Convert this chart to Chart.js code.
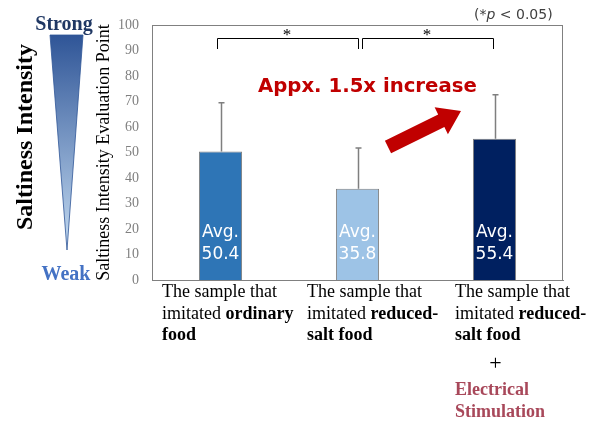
<!DOCTYPE html>
<html>
<head>
<meta charset="utf-8">
<script src="https://cdn.jsdelivr.net/npm/chart.js"></script>
<style>
  body { margin: 0; background: #fff; }
  #wrap { width: 600px; height: 433px; }
</style>
</head>
<body>
<div id="wrap"><canvas id="salt" width="600" height="433"></canvas></div>
<script>
// data
const categories = ['ordinary', 'reduced-salt', 'reduced-salt + ES'];
const means = [50.4, 35.8, 55.4];
const sdTops = [69.5, 51.8, 72.6];   // top of each error bar
const barColors = ['#2e75b6', '#9dc3e6', '#002060'];
const yMin = 0, yMax = 100, yStep = 10;

// x-axis text, each line is a list of [text, bold]
const catLines = [
  [[['The sample that', 0]], [['imitated ', 0], ['ordinary', 1]], [['food', 1]]],
  [[['The sample that', 0]], [['imitated ', 0], ['reduced-', 1]], [['salt food', 1]]],
  [[['The sample that', 0]], [['imitated ', 0], ['reduced-', 1]], [['salt food', 1]]]
];
const extraText = ['Electrical', 'Stimulation'];
// which pairs are significant
const sigPairs = [[0, 1], [1, 2]];

const SERIF = '"Liberation Serif", "Times New Roman", serif';
const SANS = '"DejaVu Sans", Verdana, sans-serif';

const extras = {
  id: 'extras',
  beforeDatasetsDraw(chart) {
    const ctx = chart.ctx, a = chart.chartArea;
    ctx.save();
    // box round the plot
    ctx.strokeStyle = '#808080';
    ctx.lineWidth = 1;
    ctx.strokeRect(a.left + 0.5, a.top + 0.5, a.right - a.left - 1, a.bottom - a.top);
    ctx.restore();
  },
  afterDatasetsDraw(chart) {
    const ctx = chart.ctx, a = chart.chartArea;
    const x = chart.scales.x, y = chart.scales.y;
    ctx.save();

    // error bars
    ctx.strokeStyle = '#7f7f7f';
    ctx.lineWidth = 1.5;
    means.forEach((m, i) => {
      const cx = Math.round(x.getPixelForValue(i)) + 0.5;
      const y0 = y.getPixelForValue(m), y1 = y.getPixelForValue(sdTops[i]);
      ctx.beginPath();
      ctx.moveTo(cx, y0); ctx.lineTo(cx, y1);
      ctx.moveTo(cx - 3, y1); ctx.lineTo(cx + 3, y1);
      ctx.stroke();
    });

    // avg labels inside bars
    ctx.fillStyle = '#ffffff';
    ctx.font = '17px ' + SANS;
    ctx.textAlign = 'center';
    ctx.textBaseline = 'alphabetic';
    means.forEach((m, i) => {
      const cx = x.getPixelForValue(i);
      ctx.fillText('Avg.', cx, a.bottom - 43);
      ctx.fillText(m.toFixed(1), cx, a.bottom - 21);
    });

    // significance brackets
    ctx.strokeStyle = '#000';
    ctx.lineWidth = 1;
    sigPairs.forEach((p, k) => {
      const xa = x.getPixelForValue(p[0]) + (k === 0 ? -4 : 4);
      const xb = x.getPixelForValue(p[1]) + (k === 0 ? 0 : -2);
      const yt = a.top + 13.5, yb = a.top + 24;
      ctx.beginPath();
      ctx.moveTo(Math.round(xa) + 0.5, yb); ctx.lineTo(Math.round(xa) + 0.5, yt);
      ctx.lineTo(Math.round(xb) + 0.5, yt); ctx.lineTo(Math.round(xb) + 0.5, yb);
      ctx.stroke();
      ctx.fillStyle = '#000';
      ctx.font = '17px ' + SERIF;
      ctx.textAlign = 'center';
      ctx.fillText('*', (xa + xb) / 2, a.top + 15);
    });

    // p note
    ctx.fillStyle = '#404040';
    ctx.font = '14px ' + SANS;
    ctx.textAlign = 'left';
    let px = 474;
    const pyy = 19;
    ctx.fillText('(*', px, pyy); px += ctx.measureText('(*').width;
    ctx.font = 'italic 14px ' + SANS;
    ctx.fillText('p', px, pyy); px += ctx.measureText('p').width;
    ctx.font = '14px ' + SANS;
    ctx.fillText(' < 0.05)', px, pyy);

    // increase note + arrow
    ctx.fillStyle = '#c00000';
    ctx.font = 'bold 19.7px ' + SANS;
    ctx.textAlign = 'left';
    ctx.fillText('Appx. 1.5x increase', 258, 92);
    const tx = 388, ty = 147, hx = 461, hy = 111;
    const ang = Math.atan2(hy - ty, hx - tx), len = Math.hypot(hx - tx, hy - ty);
    ctx.save();
    ctx.translate(tx, ty);
    ctx.rotate(ang);
    ctx.beginPath();
    ctx.moveTo(0, -7); ctx.lineTo(len - 22, -7); ctx.lineTo(len - 22, -15);
    ctx.lineTo(len, 0);
    ctx.lineTo(len - 22, 15); ctx.lineTo(len - 22, 7); ctx.lineTo(0, 7);
    ctx.closePath();
    ctx.fill();
    ctx.restore();

    // category labels under the axis
    const offs = [-58.5, -50.5, -39.5];
    catLines.forEach((lines, i) => {
      const lx = x.getPixelForValue(i) + offs[i];
      lines.forEach((segs, j) => {
        let cx = lx;
        segs.forEach(s => {
          ctx.font = (s[1] ? 'bold ' : '') + '18px ' + SERIF;
          ctx.fillStyle = '#000';
          ctx.fillText(s[0], cx, a.bottom + 17 + j * 21.5);
          cx += ctx.measureText(s[0]).width;
        });
      });
    });
    const x3 = x.getPixelForValue(2);
    ctx.font = '22px ' + SERIF;
    ctx.textAlign = 'center';
    ctx.fillStyle = '#000';
    ctx.fillText('+', x3 + 1, a.bottom + 90);
    ctx.textAlign = 'left';
    ctx.font = 'bold 18px ' + SERIF;
    ctx.fillStyle = '#a8485a';
    extraText.forEach((t, j) => ctx.fillText(t, x3 - 39.5, a.bottom + 115 + j * 22));

    // left decoration: strong/weak wedge
    ctx.textAlign = 'center';
    ctx.font = 'bold 20px ' + SERIF;
    ctx.fillStyle = '#203864';
    ctx.fillText('Strong', 64, 30);
    ctx.fillStyle = '#4472c4';
    ctx.fillText('Weak', 66, 280);
    const g = ctx.createLinearGradient(0, 35, 0, 250);
    g.addColorStop(0, '#2f5597');
    g.addColorStop(1, '#c5dcf2');
    ctx.fillStyle = g;
    ctx.beginPath();
    ctx.moveTo(50, 35); ctx.lineTo(83, 35); ctx.lineTo(67, 250); ctx.closePath();
    ctx.fill();
    ctx.strokeStyle = '#2f5597';
    ctx.lineWidth = 0.8;
    ctx.stroke();
    ctx.save();
    ctx.translate(32, 137);
    ctx.rotate(-Math.PI / 2);
    ctx.fillStyle = '#000';
    ctx.font = 'bold 24px ' + SERIF;
    ctx.textAlign = 'center';
    ctx.fillText('Saltiness Intensity', 0, 0);
    ctx.restore();

    ctx.restore();
  }
};

try {
  const ctx = document.getElementById('salt').getContext('2d');
  const data = {
    labels: categories,
    datasets: [{
      label: 'Saltiness',
      data: means,
      backgroundColor: barColors,
      borderColor: '#7f7f7f',
      borderWidth: 1,
      barPercentage: 0.315,
      categoryPercentage: 1
    }]
  };
  new Chart(ctx, {
    type: 'bar',
    data: data,
    options: {
      responsive: false,
      animation: false,
      layout: { padding: { left: 93, right: 37, top: 25, bottom: 0 } },
      plugins: { legend: { display: false }, tooltip: { enabled: false } },
      scales: {
        x: {
          grid: { display: false },
          border: { color: '#808080' },
          ticks: { display: false },
          afterFit: s => { s.height = 153; }
        },
        y: {
          min: yMin, max: yMax,
          grid: { display: false, drawTicks: false },
          border: { color: '#808080' },
          ticks: { stepSize: yStep, padding: 13, color: '#808080', font: { family: SERIF, size: 14 } },
          title: {
            display: true,
            text: 'Saltiness Intensity Evaluation Point',
            color: '#000',
            padding: 0,
            font: { family: SERIF, size: 18 }
          },
          afterFit: s => { s.width = 59; }
        }
      }
    },
    plugins: [extras]
  });
} catch (e) {
  console.log('chart error', e);
}
</script>
</body>
</html>
